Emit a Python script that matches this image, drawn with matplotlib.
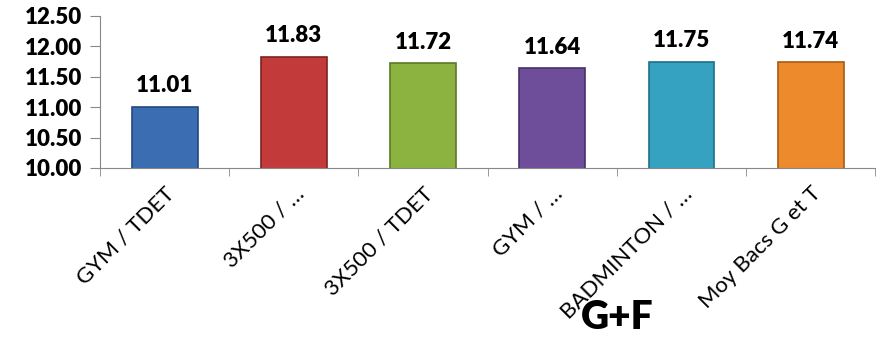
import matplotlib.pyplot as plt
from matplotlib import rc

CATEGORIES = ["GYM / TDET", "3X500 / \u2026", "3X500 / TDET", "GYM / \u2026",
              "BADMINTON / \u2026", "Moy Bacs G et T"]
VALUES = [11.01, 11.83, 11.72, 11.64, 11.75, 11.74]
COLORS = ["#3b6db3", "#c23b3a", "#8cb240", "#6e4e9a", "#34a2c0", "#ed8a2b"]
EDGES = ["#244a7e", "#7e2423", "#5a7a26", "#48316a", "#1f7088", "#a85a15"]
Y_TICKS = [10.0, 10.5, 11.0, 11.5, 12.0, 12.5]
TITLE = "G+F"


def main():
    rc('font', **{'family': ['Lato', 'DejaVu Sans']})
    fig = plt.figure(figsize=(8.82, 3.38), dpi=100)
    ax = fig.add_axes([0.1134, 0.503, 0.879, 0.45])

    x = range(len(VALUES))
    ax.bar(x, VALUES, width=0.51, bottom=0, color=COLORS, edgecolor=EDGES, linewidth=1.2, zorder=2)
    for i, v in enumerate(VALUES):
        ax.text(i, v + 0.17, "%.2f" % v, ha='center', va='bottom', fontsize=16, fontweight='heavy')

    ax.set_ylim(10, 12.5)
    ax.set_xlim(-0.5, len(VALUES) - 0.5)
    ax.set_yticks(Y_TICKS)
    ax.set_yticklabels(["%.2f" % t for t in Y_TICKS], fontsize=16, fontweight='heavy')

    ax.set_xticks(list(x))
    ax.set_xticks([i - 0.5 for i in range(len(VALUES) + 1)], minor=True)
    ax.set_xticklabels(CATEGORIES, rotation=45, ha='right', va='top', rotation_mode='anchor', fontsize=16)
    ax.tick_params(axis='x', which='major', length=0, pad=11)
    ax.tick_params(axis='x', which='minor', length=6, color='#888888', direction='out')
    ax.tick_params(axis='y', length=7, color='#888888', direction='out', pad=6)

    for s in ('top', 'right'):
        ax.spines[s].set_visible(False)
    for s in ('left', 'bottom'):
        ax.spines[s].set_color('#888888')

    fig.text(0.70, 0.062, TITLE, ha='center', va='center', fontsize=28, fontweight='heavy')
    fig.savefig('out.png', dpi=100)
    plt.close()


if __name__ == '__main__':
    main()
